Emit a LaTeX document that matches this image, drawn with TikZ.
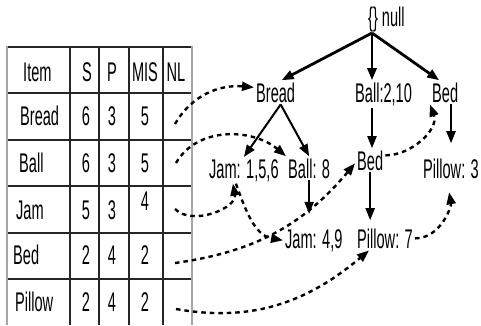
\documentclass[tikz,border=0pt]{standalone}
\usepackage{fontspec}
\setmainfont{Liberation Sans}[FakeStretch=0.54]
\usepackage{tikz}
\usetikzlibrary{calc}
\usetikzlibrary{arrows.meta}

\tikzset{
    txt/.style={inner sep=2pt, font=\fontsize{27}{32}\selectfont},
    rule/.style={line width=1.8pt, black!85},
    edge/.style={line width=1.8pt, gray!70},
    treearr/.style={line width=2pt, -{Triangle[length=12pt, width=9pt]}},
    toparr/.style={treearr, line width=2.8pt},
    link/.style={line width=2.4pt, dash pattern=on 4.5pt off 4pt, -{Triangle[length=12pt, width=9pt]}},
}

\begin{document}
\begin{tikzpicture}[x=1pt, y=1pt]
    \useasboundingbox (0, 0) rectangle (481, -325);
    % table
    \draw[rule] (7, -47) -- (192, -47);
    \draw[rule] (7, -93) -- (192, -93);
    \draw[rule] (7, -140) -- (192, -140);
    \draw[rule] (7, -186) -- (192, -186);
    \draw[rule] (7, -233) -- (192, -233);
    \draw[rule] (7, -279) -- (192, -279);
    \draw[rule] (70, -47) -- (70, -325);
    \draw[rule] (99, -47) -- (99, -325);
    \draw[rule] (129, -47) -- (129, -325);
    \draw[rule] (163, -47) -- (163, -325);
    \draw[edge] (7, -46) -- (7, -325);
    \draw[edge] (192, -46) -- (192, -325);
    \node[txt, anchor=base west] (hItem) at (21, -81) {Item};
    \node[txt, anchor=base] (hS) at (87, -81) {S};
    \node[txt, anchor=base] (hP) at (112, -81) {P};
    \node[txt, anchor=base] (hMIS) at (145, -81) {MIS};
    \node[txt, anchor=base] (hNL) at (176, -81) {NL};
    \node[txt, anchor=base west] (iBread) at (18, -125) {Bread};
    \node[txt, anchor=base] (sBread) at (86, -125) {6};
    \node[txt, anchor=base] (pBread) at (112, -125) {3};
    \node[txt, anchor=base] (mBread) at (145, -125) {5};
    \node[txt, anchor=base west] (iBall) at (17, -172) {Ball};
    \node[txt, anchor=base] (sBall) at (86, -172) {6};
    \node[txt, anchor=base] (pBall) at (112, -172) {3};
    \node[txt, anchor=base] (mBall) at (145, -172) {5};
    \node[txt, anchor=base west] (iJam) at (14, -219) {Jam};
    \node[txt, anchor=base] (sJam) at (86, -219) {5};
    \node[txt, anchor=base] (pJam) at (112, -219) {3};
    \node[txt, anchor=base] (mJam) at (145, -210) {4};
    \node[txt, anchor=base west] (iBed) at (11, -264) {Bed};
    \node[txt, anchor=base] (sBed) at (86, -264) {2};
    \node[txt, anchor=base] (pBed) at (112, -264) {4};
    \node[txt, anchor=base] (mBed) at (145, -264) {2};
    \node[txt, anchor=base west] (iPillow) at (13, -311) {Pillow};
    \node[txt, anchor=base] (sPillow) at (86, -311) {2};
    \node[txt, anchor=base] (pPillow) at (112, -311) {4};
    \node[txt, anchor=base] (mPillow) at (145, -311) {2};
    \coordinate (nlBread) at (175, -124);
    \coordinate (nlBall) at (176, -163);
    \coordinate (nlJam) at (175, -209);
    \coordinate (nlBed) at (175, -263);
    \coordinate (nlPillow) at (176, -309);
    % tree
    \node[txt, anchor=base west] (root) at (366, -26) {\{\} null};
    \coordinate (rt) at (372, -33);
    \node[txt, anchor=base west] (bread) at (254, -102) {Bread};
    \node[txt, anchor=base west] (ball210) at (353, -102) {Ball:2,10};
    \node[txt, anchor=base west] (bedT) at (430, -102) {Bed};
    \node[txt, anchor=base west] (jam156) at (207, -178) {Jam: 1,5,6};
    \node[txt, anchor=base west] (ball8) at (286, -178) {Ball: 8};
    \node[txt, anchor=base west] (bedM) at (355, -170) {Bed};
    \node[txt, anchor=base west] (pillow3) at (421, -178) {Pillow: 3};
    \node[txt, anchor=base west] (jam49) at (283, -248) {Jam: 4,9};
    \node[txt, anchor=base west] (pillow7) at (355, -248) {Pillow: 7};
    \draw[toparr] (rt) -- ([xshift=6pt]bread.north);
    \draw[toparr] (rt) -- (rt |- ball210.north);
    \draw[toparr] (rt) -- ([xshift=-6pt]bedT.north);
    \draw[treearr] ([xshift=5pt]bread.south) -- (jam156.north);
    \draw[treearr] ([xshift=5pt]bread.south) -- (ball8.north);
    \draw[treearr, shorten >=13pt] (ball8.south) -- (ball8.south |- jam49.north);
    \draw[treearr] (rt |- ball210.south) -- (rt |- bedM.north);
    \draw[treearr, shorten >=6pt] (bedM.south) -- (bedM.south |- pillow7.north);
    \draw[treearr, shorten >=13pt] (pillow3.north |- bedT.south) -- (pillow3.north);
    % node links
    \draw[link] (nlBread) to[out=60, in=175] ([yshift=5pt]bread.west);
    \draw[link] (nlBall) to[out=60, in=140] (ball8.north west);
    \draw[link] (nlJam) to[out=-45, in=-80] ([xshift=-11pt]jam156.south);
    \draw[link] ([xshift=-8pt]jam156.south) to[out=-70, in=170] (jam49.west);
    \draw[link] (nlBed) to[out=8, in=-130] ([yshift=-3pt]bedM.west);
    \draw[link] ([yshift=5pt]bedM.east) to[out=0, in=-70] (bedT.south west);
    \draw[link] (nlPillow) to[out=-10, in=-140] ([xshift=-16pt]pillow7.south);
    \draw[link, shorten >=12pt] (pillow7.east) to[out=0, in=-80] ([xshift=-4pt]pillow3.south);
\end{tikzpicture}
\end{document}
